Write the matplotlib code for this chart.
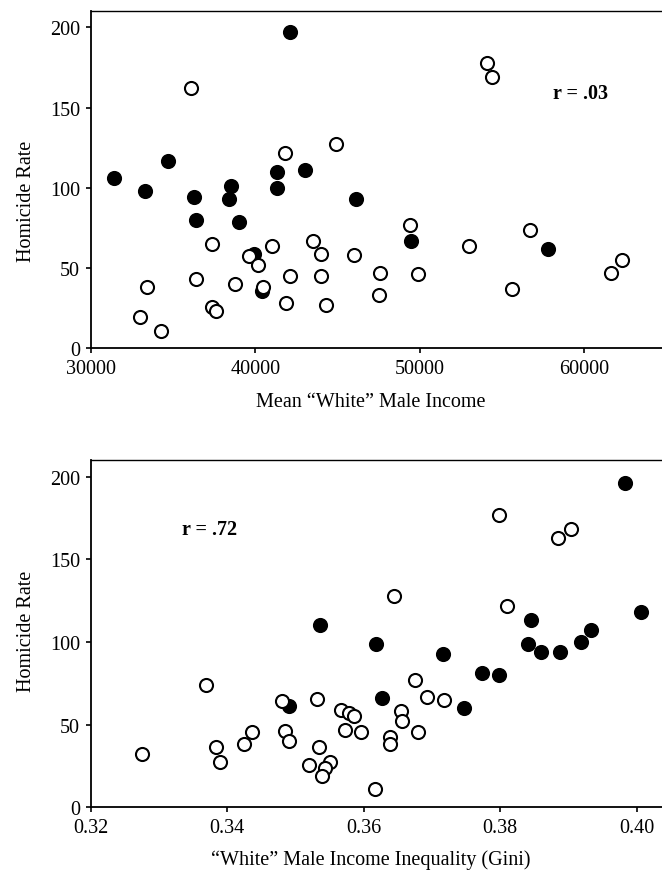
import matplotlib
matplotlib.use("Agg")
import matplotlib.pyplot as plt

# Top panel: mean "white" male income vs homicide rate
inc_filled_x = [31400, 33300, 34700, 42100, 36300, 38500, 38400, 41300, 41300,
                43000, 46100, 36400, 39000, 49500, 57800, 40400, 39900]
inc_filled_y = [106, 98, 117, 197, 94, 101, 93, 110, 100,
                111, 93, 80, 79, 67, 62, 36, 59]
inc_open_x = [36100, 54100, 54400, 41800, 44900, 49400, 56700, 37400, 41000,
              43500, 53000, 44000, 46000, 39600, 40200, 36400, 33400, 38800,
              40500, 42100, 44000, 47600, 49900, 61600, 62300, 55600, 47500,
              41900, 44300, 37400, 37600, 33000, 34300]
inc_open_y = [162, 178, 169, 122, 127.5, 77, 74, 65, 64,
              67, 64, 58.5, 58, 57.5, 52, 43, 38, 40,
              38.5, 45, 45, 47, 46, 47, 55, 37, 33,
              28, 27, 25.5, 23, 19.5, 10.5]

# Bottom panel: income inequality (Gini) vs homicide rate
gini_filled_x = [0.3983, 0.4006, 0.3536, 0.3618, 0.3716, 0.3845, 0.3841, 0.3860,
                 0.3887, 0.3919, 0.3933, 0.3773, 0.3798, 0.3627, 0.3747, 0.3490]
gini_filled_y = [196, 118, 110, 99, 93, 113, 99, 94,
                 94, 100, 107, 81, 80, 66, 60, 61.5]
gini_open_x = [0.3798, 0.3884, 0.3904, 0.3644, 0.3810, 0.3369, 0.3675, 0.3692,
               0.3717, 0.3480, 0.3531, 0.3566, 0.3578, 0.3586, 0.3654, 0.3656,
               0.3484, 0.3572, 0.3596, 0.3639, 0.3639, 0.3680, 0.3436, 0.3424,
               0.3490, 0.3384, 0.3390, 0.3275, 0.3535, 0.3520, 0.3550, 0.3544,
               0.3539, 0.3616]
gini_open_y = [177, 163, 168, 127.5, 122, 74, 77, 67,
               65, 64.5, 65.5, 59, 57, 55, 58.5, 52.5,
               46, 46.5, 45.5, 42.5, 38.5, 45.5, 45.5, 38,
               40, 36.5, 27.5, 32.5, 36.5, 25.5, 27.5, 24,
               19, 11]

income_ticks = [30000, 40000, 50000, 60000]
gini_ticks = [0.32, 0.34, 0.36, 0.38, 0.40]
gini_labels = ['0.32', '0.34', '0.36', '0.38', '0.40']
rate_ticks = [0, 50, 100, 150, 200]

FS = 14.5
plt.rcParams['font.family'] = ['Liberation Serif', 'DejaVu Serif']
plt.rcParams['font.size'] = FS

fig = plt.figure(figsize=(6.62, 8.79), dpi=100)
ax1 = fig.add_axes([0.137, 0.6026, 0.863, 0.3834])
ax2 = fig.add_axes([0.137, 0.0804, 0.863, 0.3951])

ms = 9.4
mew = 1.5


def style(ax):
    ax.spines['right'].set_visible(False)
    ax.spines['top'].set_linewidth(1.0)
    ax.spines['left'].set_linewidth(1.3)
    ax.spines['bottom'].set_linewidth(1.3)
    ax.tick_params(axis='y', direction='out', length=3.6, width=1.2, pad=4, labelsize=FS)
    ax.tick_params(axis='x', direction='out', length=3.6, width=1.2, pad=4, labelsize=FS)
    ax.set_ylim(0, 210)
    ax.set_yticks(rate_ticks)


ax1.plot(inc_filled_x, inc_filled_y, 'o', ms=ms, mfc='black', mec='black', mew=mew)
ax1.plot(inc_open_x, inc_open_y, 'o', ms=ms, mfc='white', mec='black', mew=mew)
ax1.set_xlim(30000, 64730)
ax1.set_xticks(income_ticks)
style(ax1)
ax1.set_ylabel('Homicide Rate', fontsize=FS)
ax1.yaxis.set_label_coords(-0.096, 0.44)
ax1.set_xlabel('Mean \u201cWhite\u201d Male Income', fontsize=FS)
ax1.xaxis.set_label_coords(0.49, -0.13)
ax1.text(58100, 159, 'r = .03', fontsize=FS, fontweight='bold', va='center')

ax2.plot(gini_filled_x, gini_filled_y, 'o', ms=ms, mfc='black', mec='black', mew=mew)
ax2.plot(gini_open_x, gini_open_y, 'o', ms=ms, mfc='white', mec='black', mew=mew)
ax2.set_xlim(0.32, 0.4037)
ax2.set_xticks(gini_ticks)
ax2.set_xticklabels(gini_labels)
style(ax2)
ax2.set_ylabel('Homicide Rate', fontsize=FS)
ax2.yaxis.set_label_coords(-0.096, 0.51)
ax2.set_xlabel('\u201cWhite\u201d Male Income Inequality (Gini)', fontsize=FS)
ax2.xaxis.set_label_coords(0.49, -0.12)
ax2.text(0.3334, 168.4, 'r = .72', fontsize=FS, fontweight='bold', va='center')

fig.savefig('out.png', dpi=100)
